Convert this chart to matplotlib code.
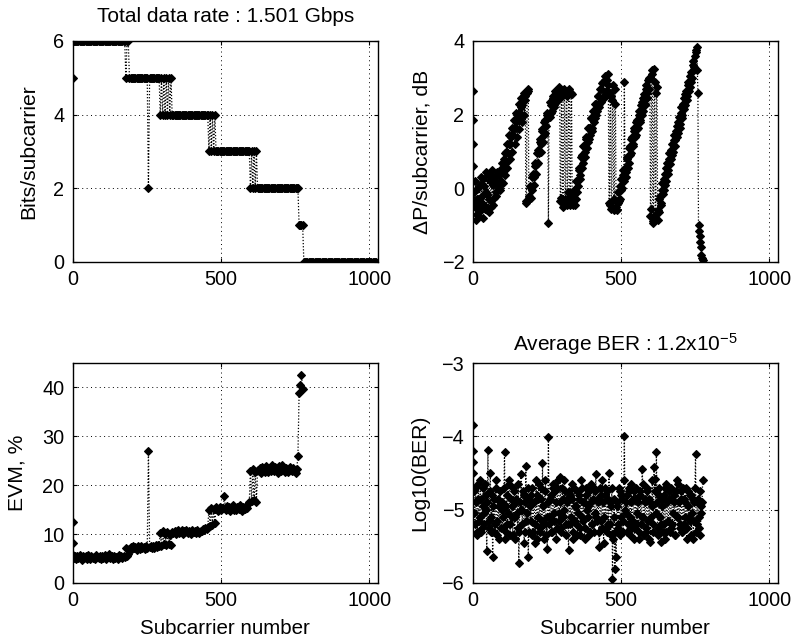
import numpy as np
import matplotlib
matplotlib.use("Agg")
import matplotlib.pyplot as plt

plt.rcParams['font.family'] = ['Liberation Sans', 'DejaVu Sans']
plt.rcParams['mathtext.fontset'] = 'custom'
plt.rcParams['mathtext.rm'] = 'Liberation Sans'
plt.rcParams['mathtext.default'] = 'regular'

# first few subcarriers are read one by one, the rest every 4th subcarrier
head_sub = [0, 1, 2, 3]
step = 4

# bits per subcarrier (run-length: level, number of samples at step 4)
bits_head = [5, 6, 6, 6]
bits_level = [6, 5, 6, 5, 2, 5,
              4, 5, 4, 5, 4, 5, 4, 5, 4, 5, 4,
              4, 3, 4, 3, 4, 3, 4, 3,
              3, 2, 3, 2, 3, 2, 3, 2,
              2, 1, 0]
bits_run = [44, 1, 2, 16, 1, 9,
            1, 1, 1, 1, 1, 1, 1, 1, 1, 1, 1,
            30, 1, 1, 1, 1, 1, 1, 1,
            28, 1, 1, 1, 1, 1, 1, 1,
            34, 4, 62]

# power adjustment per subcarrier, dB, at subcarriers 4, 8, 12, ...
dp_head = [2.65, 1.85, 1.2, 0.6]
dp_vals = [
    -0.1, -0.5, -0.85, -0.3, -0.75, 0.1, -0.6, -0.2, 0.25, -0.45,
    -0.1, -0.6, 0.35, -0.3, 0.4, -0.5, 0.1, -0.25, 0.3, -0.1, 0.15,
    0.0, 0.45, 0.2, 0.7, 0.45, 0.95, 0.7, 1.2, 0.95, 1.45,
    1.2, 1.65, 1.45, 1.85, 1.65, 2.05, 1.9, 2.3, 2.05, 2.45, 2.25, 2.6, 2.4,
    -0.4, 2.6, 2.7,
    -0.3, 0.0, -0.05, 0.4, 0.3, 0.7, 0.65, 1.05, 0.95, 1.35, 1.2, 1.6, 1.45, 1.85, 1.7, 2.05,
    -0.95,
    1.95, 2.25, 2.1, 2.45, 2.25, 2.6, 2.4, 2.7, 2.5,
    -0.35, 2.6, -0.4, 2.65, -0.3, 2.55, -0.45, 2.7, -0.2, 2.6, -0.3,
    -0.45, -0.1, -0.3, 0.2, 0.05, 0.55, 0.35, 0.9, 0.7, 1.15,
    1.0, 1.35, 1.25, 1.65, 1.45, 1.9, 1.65, 2.1, 1.9, 2.3,
    2.1, 2.5, 2.3, 2.7, 2.45, 2.9, 2.5, 3.05, 2.65, 3.1,
    -0.4, 2.6, -0.55, 2.4, -0.3, 2.7, -0.5,
    -0.6, -0.1, -0.3, 0.25, 0.0, 0.5,
    2.9,
    0.3, 0.8, 0.55, 1.1, 0.9, 1.35, 1.15, 1.55, 1.4, 1.8,
    1.6, 2.0, 1.8, 2.25, 2.0, 2.45, 2.25, 2.7, 2.45, 2.95, 2.7,
    -0.75, 3.1, -0.9, 3.25, -0.8, 2.6, -0.6,
    -0.65, -0.2, -0.4, 0.15, -0.05, 0.4, 0.2, 0.7, 0.5, 0.95,
    0.8, 1.2, 1.0, 1.45, 1.3, 1.7, 1.5, 1.95, 1.75, 2.2,
    2.0, 2.45, 2.25, 2.65, 2.5, 2.9, 2.75, 3.15, 3.0, 3.45,
    3.3, 3.7, 3.85,
    2.6, -1.0, -1.45, -1.8, -1.95,
]
# power adjustment at the subcarriers in between: 6, 10, 14, ...
dp_mid = [
    -0.4, 0.2, -0.7, 0.0, -0.5, -0.35, 0.3, -0.8, 0.05, -0.55,
    0.45, -0.15, -0.65, 0.2, -0.35, 0.5, -0.45, 0.25, -0.2, 0.45, -0.05,
    0.35, -0.05, 0.55, 0.15, 0.8, 0.35, 1.0, 0.55, 1.2, 0.8, 1.4,
    1.0, 1.6, 1.2, 1.8, 1.4, 2.0, 1.6, 2.2, 1.8, 2.4, 2.0,
    2.5, -0.35, 2.65, -0.2,
    0.05, -0.25, 0.3, 0.1, 0.6, 0.4, 0.95, 0.7, 1.25, 1.0, 1.55, 1.25, 1.8, 1.5, 2.0,
    1.9, 2.0,
    2.35, 2.05, 2.5, 2.2, 2.65, 2.35, 2.55, 2.75, 2.45,
    -0.25, 2.5, -0.5, 2.7, -0.35, 2.5, -0.1, 2.65, -0.45, 2.55,
    -0.2,
    -0.05, -0.45, 0.2, -0.1, 0.5, 0.25, 0.85, 0.55, 1.15, 0.85,
    1.4, 1.1, 1.65, 1.35, 1.9, 1.55, 2.1, 1.8, 2.3, 2.0,
    2.5, 2.2, 2.7, 2.35, 2.85, 2.45, 2.95, 2.6, 2.95,
    2.8, -0.45, 2.5, -0.35, 2.8, -0.6, 2.3, -0.35,
    -0.4, -0.35, 0.05, -0.05, 0.35, 0.2,
    0.55, 0.45, 0.85, 0.7, 1.15, 0.95, 1.4, 1.2, 1.65, 1.45,
    1.85, 1.65, 2.1, 1.85, 2.35, 2.1, 2.55, 2.3, 2.8, 2.6, 3.0,
    3.0, -0.55, 3.2, -0.95, 2.9, -0.7, 2.75, -0.85,
    -0.3, -0.45, -0.05, -0.15, 0.25, 0.1, 0.55, 0.4, 0.8, 0.65,
    1.05, 0.9, 1.3, 1.15, 1.55, 1.4, 1.8, 1.65, 2.05, 1.9,
    2.3, 2.15, 2.55, 2.4, 2.8, 2.65, 3.05, 2.9, 3.35, 3.2,
    3.6, 3.75,
    3.2, -1.15, -1.3, -1.6, -1.9,
]

# EVM per subcarrier, %
evm_head = [12.5, 8.2, 5.8, 5.5]
evm_vals = [
    5.2, 5.6, 4.9, 5.5, 5.1, 5.8, 5.3, 4.8, 5.6, 5.2,
    5.5, 5.0, 5.7, 5.3, 4.9, 5.6, 5.2, 5.4, 5.0, 5.8,
    5.3, 5.1, 5.6, 4.9, 5.5, 5.2, 5.7, 5.0, 5.4, 5.3,
    5.9, 5.1, 5.5, 4.9, 5.6, 5.2, 5.4, 5.0, 5.7, 5.3,
    5.5, 5.1, 5.6, 5.4,
    7.2, 5.6, 5.9,
    7.0, 7.4, 6.9, 7.5, 7.1, 7.3, 6.8, 7.6, 7.2, 7.0, 7.5, 7.1, 7.4, 6.9, 7.6, 7.2,
    27.0,
    7.3, 7.6, 7.1, 7.5, 7.2, 7.7, 7.4, 7.8, 7.5,
    10.2, 7.6, 10.6, 7.9, 10.0, 7.7, 10.4, 8.0, 9.9, 7.8, 10.5,
    10.3, 10.7, 10.1, 10.6, 10.9, 10.2, 10.5, 10.8, 10.0, 10.6,
    10.4, 10.9, 10.2, 10.7, 10.5, 10.1, 10.8, 10.4, 10.6, 10.2,
    10.9, 10.5, 10.3, 10.7, 10.6, 11.0, 10.8, 11.2, 11.0, 11.5,
    15.0, 11.6, 15.4, 11.9, 15.1, 12.3, 15.5,
    15.2, 14.8, 15.6, 15.0, 15.4, 15.3, 17.8, 14.9, 15.7, 15.1,
    15.5, 14.8, 15.3, 15.9, 15.0, 15.4, 14.9, 15.6, 15.2, 16.0,
    15.1, 14.8, 15.5, 15.2, 15.8, 15.3, 16.2, 16.5,
    23.0, 16.8, 23.4, 17.0, 22.8, 16.6, 23.2,
    22.9, 23.5, 22.6, 23.8, 23.1, 22.7, 24.0, 23.3, 22.8, 23.6,
    23.0, 24.2, 23.4, 22.9, 23.7, 23.2, 22.6, 23.9, 23.3, 23.0,
    24.1, 23.5, 22.8, 23.6, 23.1, 22.7, 23.8, 23.2, 22.9, 23.5,
    23.0, 22.6, 23.4,
    25.9,
    38.8, 40.5, 42.6, 39.6,
]

# log10(BER) per subcarrier, at subcarriers 4, 8, 12, ...
ber_head = [-3.85, -4.2, -4.35, -4.5]
ber_vals = [
    -4.75, -5.2, -4.9, -5.3, -4.65, -5.1, -4.85, -5.25,
    -4.7, -5.05, -4.8, -5.57, -4.19, -5.15, -4.5, -5.3,
    -5.64, -4.85, -5.2, -4.7, -5.35, -4.95, -4.75, -5.25,
    -4.9, -5.1, -4.21, -5.3, -4.8, -5.05, -4.65, -5.2,
    -4.95, -5.35, -4.75, -5.1, -4.85, -5.25, -5.73, -4.9,
    -4.51, -5.2, -4.8, -5.3, -4.41, -5.05, -5.65, -4.85,
    -5.15, -4.7, -5.3, -4.9, -5.45, -4.8, -5.1, -4.65,
    -5.25, -4.85, -4.37, -5.2, -4.75, -5.35, -5.53, -4.01,
    -5.1, -4.8, -5.3, -4.7, -5.05, -4.9, -5.25, -4.6,
    -5.15, -4.55, -5.3, -4.85, -5.0, -4.75, -5.2, -4.9,
    -5.55, -4.8, -5.1, -4.65, -5.3, -4.95, -5.2, -4.75,
    -5.05, -4.85, -5.35, -4.7, -5.15, -4.9, -5.25, -4.8,
    -5.1, -4.75, -5.3, -4.9, -5.2, -4.7, -5.05, -4.51,
    -5.15, -4.85, -5.51, -4.8, -5.25, -4.9, -5.1, -4.7,
    -5.3, -4.85, -4.5, -5.2, -4.95, -5.95, -5.1, -5.81,
    -5.65, -4.9, -5.25, -4.75, -5.1, -4.85, -5.3, -3.99,
    -5.05, -4.8, -5.2, -4.7, -5.35, -4.9, -5.15, -4.75,
    -5.25, -4.85, -5.05, -5.4, -4.8, -5.2, -4.44, -5.1,
    -4.9, -5.3, -4.75, -5.15, -4.85, -5.44, -4.95, -5.2,
    -4.42, -4.58, -4.22, -5.25, -4.8, -5.1, -5.44, -4.85,
    -5.2, -4.7, -5.3, -4.9, -5.15, -4.75, -5.25, -4.85,
    -5.05, -4.8, -5.35, -4.6, -5.1, -4.9, -5.2, -4.75,
    -5.3, -4.85, -5.1, -4.7, -5.25, -4.95, -5.15, -4.8,
    -5.05, -5.4, -4.9, -4.24, -5.2, -4.85, -5.1, -5.35,
    -4.95, -4.59,
]
# log10(BER) at the subcarriers in between: 6, 10, 14, ...
ber_mid = [
    -5.05, -4.7, -5.35, -4.85, -5.15, -4.6, -5.3, -4.95,
    -5.2, -4.65, -5.0, -4.9, -5.25, -4.75, -5.1, -4.8,
    -4.95, -5.3, -4.6, -5.15, -4.85, -5.4, -4.9, -5.0,
    -5.25, -4.7, -5.4, -4.95, -5.2, -4.6, -5.35, -4.85,
    -5.1, -4.7, -5.4, -4.9, -5.05, -4.65, -5.3, -5.0,
    -5.0, -4.75, -5.45, -4.9, -5.15, -4.7, -5.3, -4.95,
    -4.8, -5.35, -4.9, -5.2, -4.6, -5.4, -4.85, -5.3,
    -4.7, -5.15, -4.95, -5.4, -4.6, -5.1, -4.9, -5.2,
    -4.85, -5.3, -4.65, -5.15, -4.75, -5.4, -4.7, -5.05,
    -4.9, -5.25, -4.7, -5.1, -4.6, -5.35, -4.85, -5.2,
    -4.75, -5.2, -4.85, -5.4, -4.7, -5.15, -4.95, -5.35,
    -4.8, -5.25, -4.6, -5.1, -4.9, -5.4, -4.7, -5.0,
    -4.95, -5.35, -4.65, -5.2, -4.85, -5.3, -4.75, -5.1,
    -4.9, -5.3, -4.7, -5.15, -4.6, -5.45, -4.8, -5.25,
    -4.75, -5.2, -4.9, -5.35, -4.7, -5.4, -4.85, -5.3,
    -4.95, -5.2, -4.7, -5.35, -4.8, -5.15, -4.6, -5.0,
    -4.9, -5.3, -4.75, -5.1, -4.65, -5.25, -4.85, -5.4,
    -4.7, -5.2, -4.9, -5.3, -4.75, -5.1, -4.65, -5.35,
    -4.85, -5.25, -4.7, -5.4, -4.9, -5.1, -4.6, -5.3,
    -4.75, -5.05, -4.9, -5.35, -4.7, -5.2, -4.95, -5.3,
    -4.8, -5.4, -4.65, -5.15, -4.85, -5.3, -4.7, -5.2,
    -4.9, -5.35, -4.75, -5.1, -4.65, -5.25, -4.85, -5.3,
    -4.7, -5.2, -4.9, -5.4, -4.75, -5.1, -4.8, -5.35,
    -4.85, -5.15, -4.7, -5.3, -4.9, -5.25, -4.75, -5.05,
    -4.9,
]


def series(head, vals, mid=None):
    x = np.concatenate([head_sub, step + step * np.arange(len(vals))])
    y = np.concatenate([head, vals])
    if mid is not None:
        x = np.concatenate([x, step + step // 2 + step * np.arange(len(mid))])
        y = np.concatenate([y, mid])
        order = np.argsort(x, kind='stable')
        x, y = x[order], y[order]
    return x, y


bits = np.repeat(bits_level, bits_run)
panels = [
    (series(bits_head, bits), (0, 6), [0, 2, 4, 6], 'Bits/subcarrier',
     'Total data rate : 1.501 Gbps', None, 11, 14),
    (series(dp_head, dp_vals, dp_mid), (-2, 4), [-2, 0, 2, 4], '\u0394P/subcarrier, dB',
     None, None, 7, 10),
    (series(evm_head, evm_vals), (0, 45), [0, 10, 20, 30, 40], 'EVM, %',
     None, 'Subcarrier number', 11, 10),
    (series(ber_head, ber_vals, ber_mid), (-6, -3), [-6, -5, -4, -3], 'Log10(BER)',
     'Average BER : 1.2x10$^{-5}$', 'Subcarrier number', 8.5, 9),
]

W, H = 793, 642
fig = plt.figure(figsize=(W / 100, H / 100), dpi=100)
rects = [(72.5, 41, 305.5, 221), (472.5, 41, 305.5, 221),
         (72.5, 363, 305.5, 220), (472.5, 363, 305.5, 220)]

for (xy, ylim, yticks, ylab, title, xlab, ypad, tpad), (l, t, w, h) in zip(panels, rects):
    ax = fig.add_axes([l / W, 1 - (t + h) / H, w / W, h / H])
    x, y = xy
    ax.plot(x, y, color='k', linestyle=(0, (1, 1.5)), linewidth=0.9,
            marker='D', markersize=4.4, markerfacecolor='k',
            markeredgecolor='k', markeredgewidth=0.8)
    ax.set_xlim(0, 1030)
    ax.set_ylim(*ylim)
    ax.set_xticks([0, 500, 1000])
    ax.set_yticks(yticks)
    ax.grid(True, color='k', linestyle=(0, (1, 3.5)), linewidth=0.7)
    ax.tick_params(direction='in', length=3, top=True, right=True,
                   labelsize=14.3, pad=6)
    for s in ax.spines.values():
        s.set_linewidth(1.0)
    ax.set_ylabel(ylab, fontsize=15.2, labelpad=ypad)
    if title:
        ax.set_title(title, fontsize=15, pad=tpad)
    if xlab:
        ax.set_xlabel(xlab, fontsize=14.8, labelpad=6)

fig.savefig('out.png', dpi=100)
